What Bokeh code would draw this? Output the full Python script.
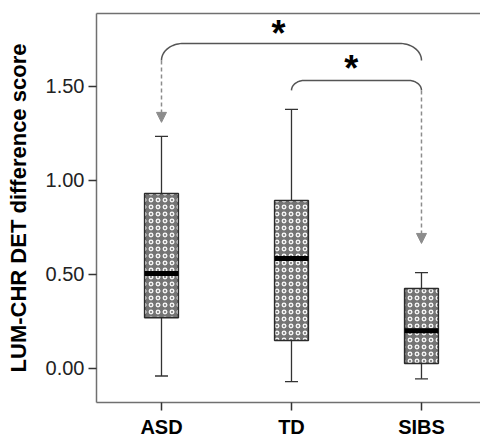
from bokeh.plotting import figure
from bokeh.models import (FixedTicker, PrintfTickFormatter, LinearAxis, Range1d,
                          Arrow, NormalHead)
from bokeh.core.properties import value
from bokeh.embed import file_html
from bokeh.resources import INLINE
import numpy as np

# ---- data ----
groups = ["ASD", "TD", "SIBS"]
whisker_low = [-0.04, -0.07, -0.055]
q1 = [0.27, 0.149, 0.027]
median = [0.505, 0.585, 0.20]
q3 = [0.93, 0.894, 0.425]
whisker_high = [1.234, 1.378, 0.51]
y_ticks = [0.0, 0.5, 1.0, 1.5]

# significance comparisons between groups (indices into groups)
comparisons = [
    dict(a=0, b=2, top=1.729, foot=1.638, tip_a=1.309, tip_b=None, star_x=0.9, star_y=1.803, rx=0.17, ry=0.09),
    dict(a=1, b=2, top=1.532, foot=1.479, tip_a=None, tip_b=0.665, star_x=1.46, star_y=1.617, rx=0.10, ry=0.053),
]

FONT = "Liberation Sans"
AX_COLOR = "#707070"

pos = list(range(len(groups)))
box_w = 0.26

p = figure(width=480, height=440, output_backend="svg", toolbar_location=None,
           x_range=Range1d(-0.5, 2.454), y_range=Range1d(-0.181, 1.888),
           min_border_left=96, min_border_right=0, min_border_top=13, min_border_bottom=0)
p.outline_line_color = None
p.grid.grid_line_color = None
p.background_fill_color = "white"
p.border_fill_color = "white"

# whiskers
p.segment(x0=pos, x1=pos, y0=whisker_low, y1=q1, line_color="#333333", line_width=1.3)
p.segment(x0=pos, x1=pos, y0=q3, y1=whisker_high, line_color="#333333", line_width=1.3)
p.scatter(x=pos, y=whisker_low, marker="dash", size=13, line_color="#333333", line_width=1.3)
p.scatter(x=pos, y=whisker_high, marker="dash", size=13, line_color="#333333", line_width=1.3)

# boxes
p.vbar(x=pos, bottom=q1, top=q3, width=box_w, fill_color="#747474",
       hatch_pattern="ring", hatch_color="#f4f4f4", hatch_scale=7, hatch_weight=1.4,
       line_color="#2a2a2a", line_width=1.5)
# medians
p.segment(x0=[x - box_w / 2 for x in pos], x1=[x + box_w / 2 for x in pos],
          y0=median, y1=median, line_color="black", line_width=5)

# brackets with rounded corners
for c in comparisons:
    xa, xb = pos[c["a"]], pos[c["b"]]
    rx, ry = c["rx"], c["ry"]
    t = np.linspace(0, np.pi / 2, 20)
    lx = xa + rx - rx * np.cos(t)
    ly = (c["top"] - ry) + ry * np.sin(t)
    lx = np.concatenate([[xa], lx])
    ly = np.concatenate([[c["foot"]], ly])
    rxs = xb - rx + rx * np.sin(t)
    rys = (c["top"] - ry) + ry * np.cos(t)
    rxs = np.concatenate([rxs, [xb]])
    rys = np.concatenate([rys, [c["foot"]]])
    p.line(x=np.concatenate([lx, rxs]), y=np.concatenate([ly, rys]),
           line_color="#555555", line_width=1.5)
    p.text(x=[c["star_x"]], y=[c["star_y"]], text=["*"], text_font=value(FONT),
           text_font_style="bold", text_font_size="36px", text_align="center",
           text_baseline="alphabetic", y_offset=4, text_color="black")
    if c["tip_a"] is not None:
        p.add_layout(Arrow(x_start=xa, y_start=c["foot"], x_end=xa, y_end=c["tip_a"],
                           line_color="#8c8c8c", line_width=1.5, line_dash="4 3",
                           end=NormalHead(size=10, fill_color="#8c8c8c", line_color="#8c8c8c")))
    if c["tip_b"] is not None:
        p.add_layout(Arrow(x_start=xb, y_start=c["foot"], x_end=xb, y_end=c["tip_b"],
                           line_color="#8c8c8c", line_width=1.5, line_dash="4 3",
                           end=NormalHead(size=10, fill_color="#8c8c8c", line_color="#8c8c8c")))

# axes
p.xaxis.ticker = FixedTicker(ticks=pos)
p.xaxis.major_label_overrides = {i: g for i, g in zip(pos, groups)}
p.xaxis.major_label_text_font = FONT
p.xaxis.major_label_text_font_style = "bold"
p.xaxis.major_label_text_font_size = "20px"
p.xaxis.major_label_text_color = "black"
p.xaxis.major_tick_out = 8
p.xaxis.major_tick_in = 0
p.xaxis.minor_tick_line_color = None
p.xaxis.major_label_standoff = 5

p.yaxis.ticker = FixedTicker(ticks=y_ticks)
p.yaxis.formatter = PrintfTickFormatter(format="%.2f")
p.yaxis.major_label_text_font = FONT
p.yaxis.major_label_text_font_size = "20px"
p.yaxis.major_label_text_color = "#222222"
p.yaxis.major_tick_out = 8
p.yaxis.major_tick_in = 0
p.yaxis.minor_tick_line_color = None
p.yaxis.major_label_standoff = 4
p.yaxis.axis_label = "LUM-CHR DET difference score"
p.yaxis.axis_label_text_font = FONT
p.yaxis.axis_label_text_font_style = "bold"
p.yaxis.axis_label_text_font_size = "22px"
p.yaxis.axis_label_text_color = "black"
p.yaxis.axis_label_standoff = 12

for ax in (p.xaxis, p.yaxis):
    ax.axis_line_color = AX_COLOR
    ax.axis_line_width = 1.5
    ax.major_tick_line_color = "#333333"
    ax.major_tick_line_width = 1.5

top_axis = LinearAxis(ticker=FixedTicker(ticks=[]), axis_line_color=AX_COLOR, axis_line_width=1.5,
                      major_tick_line_color=None, minor_tick_line_color=None,
                      major_label_text_font_size="0px")
p.add_layout(top_axis, "above")

open("out.html", "w").write(file_html(p, INLINE))
